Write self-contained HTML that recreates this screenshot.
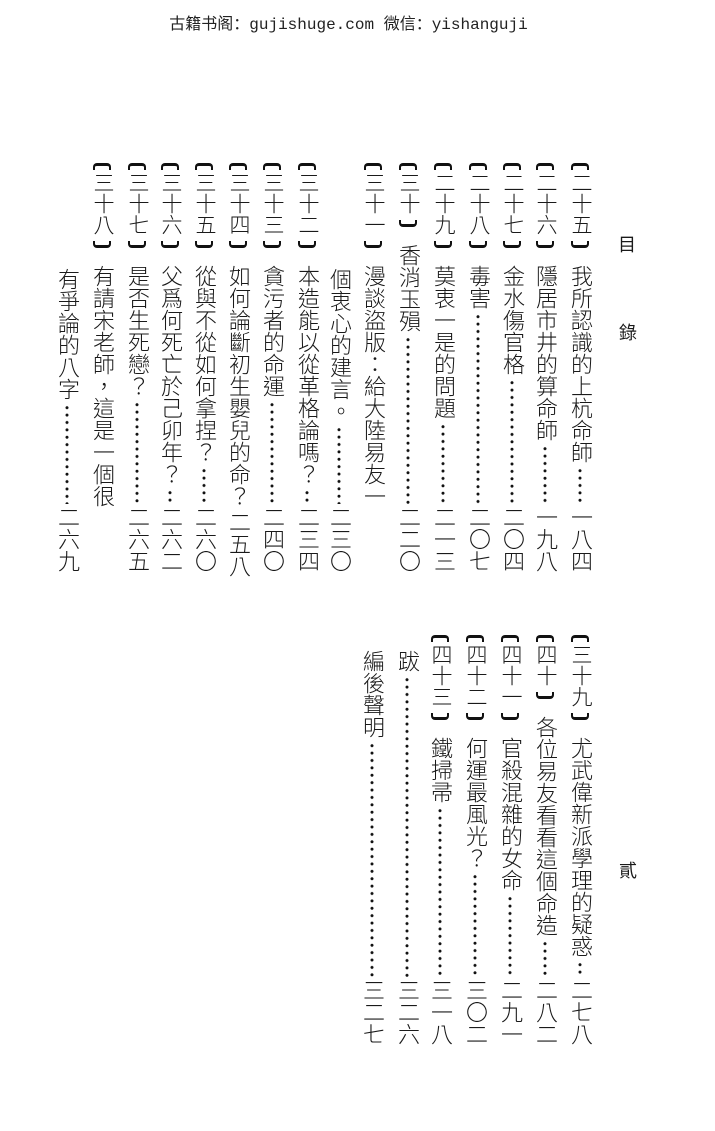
<!DOCTYPE html>
<html><head><meta charset="utf-8">
<style>
html,body{margin:0;padding:0;background:#fff;}
body{width:715px;height:1131px;position:relative;overflow:hidden;color:#1a1a1a;font-family:"Liberation Sans","Noto Sans CJK TC",sans-serif;}
.hd{position:absolute;top:14px;left:-9px;width:715px;text-align:center;font-family:"Liberation Mono","Noto Sans CJK SC",monospace;font-size:16px;line-height:22px;color:#222;}
.c{position:absolute;width:24px;display:flex;flex-direction:column;align-items:center;}
.v{writing-mode:vertical-rl;font-size:22px;line-height:24px;flex-shrink:0;font-weight:300;}
.lb{writing-mode:vertical-rl;font-size:21px;line-height:24px;flex-shrink:0;font-weight:300;}
.bt,.bb{display:block;width:14px;height:4px;border:0 solid #111;flex-shrink:0;}
.bt{border-top-width:3px;border-left-width:2px;border-right-width:2px;border-radius:4px 4px 0 0;margin-bottom:2px;}
.bb{border-bottom-width:3px;border-left-width:2px;border-right-width:2px;border-radius:0 0 4px 4px;margin-top:6px;margin-bottom:17px;}
.d{flex:1 1 auto;min-height:0;width:24px;background-image:radial-gradient(circle,#111 1.3px,transparent 1.7px);background-size:24px 7.4px;background-repeat:repeat-y;background-position:center 2px;margin:2px 0;}
.m{position:absolute;font-family:"Noto Sans CJK TC",sans-serif;font-size:18px;}
</style></head><body>
<div class="hd">古籍书阁：gujishuge.com 微信：yishanguji</div>

<div class="m" style="left:618px;top:231px;">目</div>
<div class="m" style="left:619px;top:319px;">錄</div>
<div class="m" style="left:619px;top:857px;">貳</div>

<!-- upper half -->
<div class="c" style="left:568px;top:163px;height:409px"><i class="bt"></i><span class="lb">二十五</span><i class="bb"></i><span class="v">我所認識的上杭命師</span><b class="d"></b><span class="v">一八四</span></div>
<div class="c" style="left:533px;top:163px;height:409px"><i class="bt"></i><span class="lb">二十六</span><i class="bb"></i><span class="v">隱居市井的算命師</span><b class="d"></b><span class="v">一九八</span></div>
<div class="c" style="left:500px;top:163px;height:409px"><i class="bt"></i><span class="lb">二十七</span><i class="bb"></i><span class="v">金水傷官格</span><b class="d"></b><span class="v">二〇四</span></div>
<div class="c" style="left:466px;top:163px;height:409px"><i class="bt"></i><span class="lb">二十八</span><i class="bb"></i><span class="v">毒害</span><b class="d"></b><span class="v">二〇七</span></div>
<div class="c" style="left:431px;top:163px;height:409px"><i class="bt"></i><span class="lb">二十九</span><i class="bb"></i><span class="v">莫衷一是的問題</span><b class="d"></b><span class="v">二一三</span></div>
<div class="c" style="left:396px;top:163px;height:409px"><i class="bt"></i><span class="lb">三十</span><i class="bb"></i><span class="v">香消玉殞</span><b class="d"></b><span class="v">二二〇</span></div>
<div class="c" style="left:361px;top:163px;height:409px"><i class="bt"></i><span class="lb">三十一</span><i class="bb"></i><span class="v">漫談盜版：給大陸易友一</span></div>
<div class="c" style="left:327px;top:268px;height:304px"><span class="v">個衷心的建言。</span><b class="d"></b><span class="v">二三〇</span></div>
<div class="c" style="left:295px;top:163px;height:409px"><i class="bt"></i><span class="lb">三十二</span><i class="bb"></i><span class="v">本造能以從革格論嗎？</span><b class="d"></b><span class="v">二三四</span></div>
<div class="c" style="left:260px;top:163px;height:409px"><i class="bt"></i><span class="lb">三十三</span><i class="bb"></i><span class="v">貪污者的命運</span><b class="d"></b><span class="v">二四〇</span></div>
<div class="c" style="left:226px;top:163px;height:409px"><i class="bt"></i><span class="lb">三十四</span><i class="bb"></i><span class="v">如何論斷初生嬰兒的命？</span><b class="d"></b><span class="v">二五八</span></div>
<div class="c" style="left:192px;top:163px;height:409px"><i class="bt"></i><span class="lb">三十五</span><i class="bb"></i><span class="v">從與不從如何拿捏？</span><b class="d"></b><span class="v">二六〇</span></div>
<div class="c" style="left:158px;top:163px;height:409px"><i class="bt"></i><span class="lb">三十六</span><i class="bb"></i><span class="v">父爲何死亡於己卯年？</span><b class="d"></b><span class="v">二六二</span></div>
<div class="c" style="left:125px;top:163px;height:409px"><i class="bt"></i><span class="lb">三十七</span><i class="bb"></i><span class="v">是否生死戀？</span><b class="d"></b><span class="v">二六五</span></div>
<div class="c" style="left:90px;top:163px;height:409px"><i class="bt"></i><span class="lb">三十八</span><i class="bb"></i><span class="v">有請宋老師，這是一個很</span></div>
<div class="c" style="left:55px;top:268px;height:304px"><span class="v">有爭論的八字</span><b class="d"></b><span class="v">二六九</span></div>

<!-- lower half -->
<div class="c" style="left:568px;top:635px;height:410px"><i class="bt"></i><span class="lb">三十九</span><i class="bb"></i><span class="v">尤武偉新派學理的疑惑</span><b class="d"></b><span class="v">二七八</span></div>
<div class="c" style="left:533px;top:635px;height:410px"><i class="bt"></i><span class="lb">四十</span><i class="bb"></i><span class="v">各位易友看看這個命造</span><b class="d"></b><span class="v">二八二</span></div>
<div class="c" style="left:498px;top:635px;height:410px"><i class="bt"></i><span class="lb">四十一</span><i class="bb"></i><span class="v">官殺混雜的女命</span><b class="d"></b><span class="v">二九一</span></div>
<div class="c" style="left:463px;top:635px;height:410px"><i class="bt"></i><span class="lb">四十二</span><i class="bb"></i><span class="v">何運最風光？</span><b class="d"></b><span class="v">三〇二</span></div>
<div class="c" style="left:428px;top:635px;height:410px"><i class="bt"></i><span class="lb">四十三</span><i class="bb"></i><span class="v">鐵掃帚</span><b class="d"></b><span class="v">三一八</span></div>
<div class="c" style="left:395px;top:650px;height:395px"><span class="v">跋</span><b class="d"></b><span class="v">三二六</span></div>
<div class="c" style="left:360px;top:650px;height:395px"><span class="v">編後聲明</span><b class="d"></b><span class="v">三二七</span></div>
</body></html>
